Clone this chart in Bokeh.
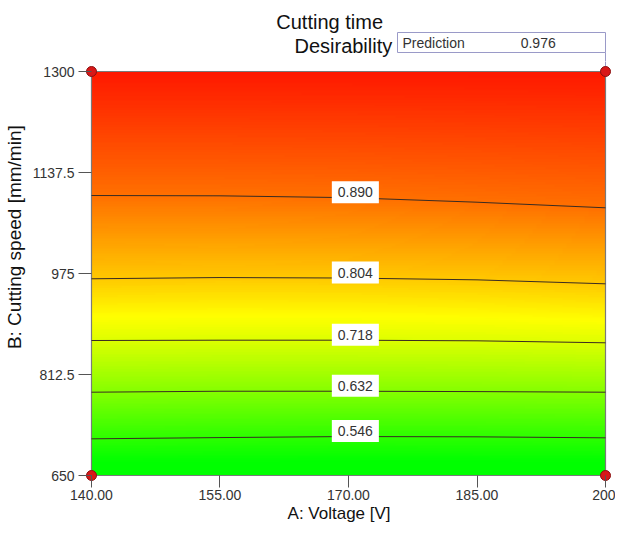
import numpy as np
from bokeh.plotting import figure
from bokeh.layouts import column
from bokeh.models import Range1d, FixedTicker, LinearColorMapper, Label
from bokeh.core.properties import value
from bokeh.embed import file_html
from bokeh.resources import INLINE

# ---------------- data ----------------
voltage_pts = [140, 155, 170, 185, 200]
contour_levels = [0.546, 0.632, 0.718, 0.804, 0.890]
contour_speeds = [
    [709.0, 711.0, 712.7, 712.2, 710.6],     # 0.546
    [784.0, 785.6, 785.6, 785.0, 784.0],     # 0.632
    [867.2, 867.7, 867.7, 866.7, 863.5],     # 0.718
    [966.5, 968.5, 967.7, 964.8, 958.4],     # 0.804
    [1100.5, 1100.0, 1097.0, 1089.7, 1080.7] # 0.890
]
edge_desir_low = 0.478    # desirability at 650 mm/min
edge_desir_high = 0.976   # desirability at 1300 mm/min
design_x = [140, 200, 140, 200]
design_y = [650, 650, 1300, 1300]
x_ticks = [140, 155, 170, 185, 200]
y_ticks = [650, 812.5, 975, 1137.5, 1300]
y_tick_labels = ["650", "812.5", "975", "1137.5", "1300"]
title_lines = ["Cutting time", "Desirability"]
prediction_name = "Prediction"
prediction_value = 0.976
prediction_at = (200, 1300)

TFONT = "'Liberation Sans', Arial, sans-serif"
NB = "\u00a0"

# ---------------- surface ----------------
nx, ny = 120, 240
gx = np.linspace(140, 200, nx)
gy = np.linspace(650, 1300, ny)
cs = np.array(contour_speeds)
z = np.zeros((ny, nx))
for i, xv in enumerate(gx):
    col = [np.interp(xv, voltage_pts, row) for row in cs]
    sp = [650.0] + col + [1300.0]
    dv = [edge_desir_low] + contour_levels + [edge_desir_high]
    z[:, i] = np.interp(gy, sp, dv)

# palette green -> yellow -> red
pal = []
lo, mid, hi = 0.50, 0.75, 1.0
for k in range(256):
    d = lo + (hi - lo) * k / 255
    if d <= mid:
        r = int(round(255 * (d - lo) / (mid - lo))); g = 255
    else:
        r = 255; g = int(round(255 * (1 - (d - mid) / (hi - mid))))
    pal.append("#%02x%02x%02x" % (r, g, 0))
mapper = LinearColorMapper(palette=pal, low=lo, high=hi)

xpad, ypad = 0.7, 9.65
ypad_top = 16.1
xr = Range1d(140 - xpad, 200 + xpad)

# ---------------- top strip (titles + prediction box) ----------------
TOPH = 61
top = figure(width=615, height=TOPH, output_backend="svg", toolbar_location=None,
             x_range=xr, y_range=Range1d(TOPH, 0),
             x_axis_location=None, y_axis_location=None,
             min_border_left=85, min_border_right=4,
             min_border_top=0, min_border_bottom=0)
top.outline_line_color = None
top.grid.visible = False
top.text(x=[167.8, 169.4], y=[21, 45.5], text=title_lines,
         text_align="center", text_baseline="middle",
         text_font=value(TFONT), text_font_size="20px", text_color="#111111")
top.quad(left=[175.72], right=[prediction_at[0]], top=[32], bottom=[52],
         fill_color="white", line_color="#9a9ac8", line_width=1)
top.text(x=[176.3, 190.1], y=[42, 42],
         text=[prediction_name, "%.3f" % prediction_value],
         text_align="left", text_baseline="middle",
         text_font=value(TFONT), text_font_size="14px", text_color="#333333")
top.segment(x0=[prediction_at[0]], y0=[52], x1=[prediction_at[0]], y1=[TOPH + 1],
            line_color="#9a9ac8", line_width=1)

# ---------------- main contour plot ----------------
p = figure(width=615, height=525 - TOPH, output_backend="svg", toolbar_location=None,
           x_range=xr, y_range=Range1d(650 - ypad, 1300 + ypad_top),
           min_border_left=85, min_border_right=4,
           min_border_top=0, min_border_bottom=44)
p.outline_line_color = None
p.grid.visible = False

p.image(image=[z], x=140, y=650, dw=60, dh=650, color_mapper=mapper)
p.quad(left=[140], right=[200], bottom=[650], top=[1300],
       fill_color=None, line_color="#7a7a7a", line_width=1.2)
p.segment(x0=[prediction_at[0]], y0=[prediction_at[1]],
          x1=[prediction_at[0]], y1=[1300 + ypad_top + 2],
          line_color="#9a9ac8", line_width=1)

p.multi_line(xs=[voltage_pts] * len(contour_speeds), ys=contour_speeds,
             line_color="#3a2c22", line_width=1)

for lev, row in zip(contour_levels, contour_speeds):
    yl = np.interp(170.8, voltage_pts, row) + 9
    p.add_layout(Label(x=170.8, y=yl, text="%.3f" % lev,
                       text_align="center", text_baseline="middle",
                       text_font=TFONT, text_font_size="14px",
                       text_color="#333333",
                       background_fill_color="white", padding=6))

p.scatter(design_x, design_y, size=10, fill_color="#d81818",
          line_color="#8a1010", line_width=1)

for ax in (p.xaxis[0], p.yaxis[0]):
    ax.axis_line_color = None
    ax.major_tick_line_color = "#555555"
    ax.minor_tick_line_color = None
    ax.major_label_text_font = TFONT
    ax.major_label_text_font_size = "14px"
    ax.major_label_text_color = "#333333"
    ax.axis_label_text_font = TFONT
    ax.axis_label_text_font_style = "normal"
    ax.axis_label_text_color = "#111111"

p.xaxis.ticker = FixedTicker(ticks=x_ticks)
p.xaxis.major_label_overrides = {t: ("%.2f" % t if t != 200 else "200") for t in x_ticks}
p.xaxis.major_tick_in = 6
p.xaxis.major_tick_out = 6
p.xaxis.major_label_standoff = 2
p.xaxis.axis_label = "A: Voltage [V]" + NB * 4
p.xaxis.axis_label_text_font_size = "17px"
p.xaxis.axis_label_standoff = 1

p.yaxis.ticker = FixedTicker(ticks=y_ticks)
p.yaxis.major_label_overrides = dict(zip(y_ticks, y_tick_labels))
p.yaxis.major_tick_in = 6
p.yaxis.major_tick_out = 7
p.yaxis.major_label_standoff = 4
p.yaxis.axis_label = NB * 13 + "B: Cutting speed [mm/min]"
p.yaxis.axis_label_text_font_size = "19px"
p.yaxis.axis_label_standoff = 5

layout = column(top, p)
open("out.html", "w").write(file_html(layout, INLINE))
